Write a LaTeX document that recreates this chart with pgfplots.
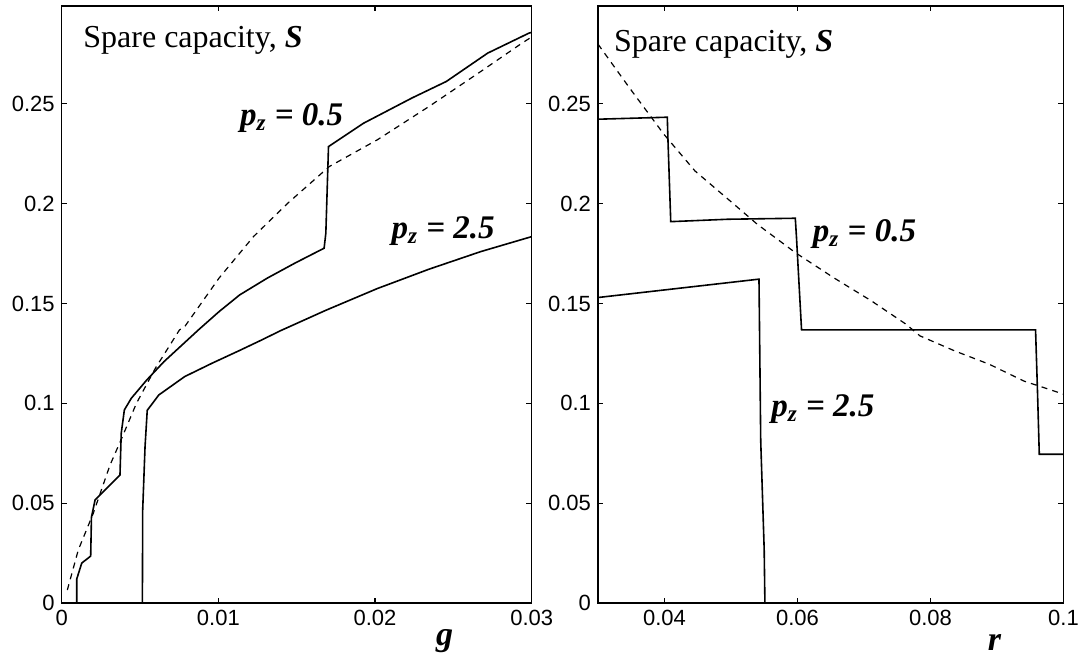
\documentclass[border=0pt]{standalone}
\usepackage{fontspec}
\setmainfont{Liberation Serif}
\setsansfont{Liberation Sans}
\usepackage{pgfplots}
\pgfplotsset{compat=1.18}

\pgfplotsset{
  panel/.style={
    scale only axis, anchor=south west, clip mode=individual,
    height=298.5pt, ymin=0, ymax=0.299,
    ytick={0,0.05,0.1,0.15,0.2,0.25},
    yticklabels={0,0.05,0.1,0.15,0.2,0.25},
    scaled ticks=false,
    tick align=inside, major tick length=2.6pt,
    xtick pos=both, ytick pos=both,
    ticklabel style={font=\sffamily\fontsize{11}{11}\selectfont},
    axis line style={line width=0.8pt},
    every tick/.style={line width=0.6pt, black},
  },
  curve/.style={black, line width=0.8pt},
  bound/.style={black, line width=0.6pt, dash pattern=on 3pt off 2.6pt},
}
\newcommand{\lab}[1]{{\fontsize{16.5}{16.5}\selectfont\bfseries\itshape #1}}
\newcommand{\spare}{{\fontsize{16}{16}\selectfont Spare capacity, \textbf{\textit{S}}}}

\begin{document}
\begin{tikzpicture}
\useasboundingbox (0,0) rectangle (541pt,327.5pt);

% left panel: S against g
\begin{axis}[panel, at={(30.85pt,26pt)}, width=235pt,
  xmin=0, xmax=0.03, xtick={0,0.01,0.02,0.03},
  xticklabels={0,0.01,0.02,0.03}]
  \addplot[curve] coordinates {(0.00096,0) (0.00096,0.012) (0.00128,0.0200) (0.00185,0.0235) (0.0019,0.043) (0.00213,0.0516) (0.00372,0.0641) (0.0038,0.085) (0.004,0.0967) (0.00444,0.1025) (0.00543,0.1117) (0.00653,0.1209) (0.00873,0.1368) (0.01004,0.1459) (0.01136,0.1543) (0.01312,0.1627) (0.01488,0.1702) (0.01675,0.1777) (0.01686,0.1852) (0.01703,0.2286) (0.01927,0.2403) (0.02235,0.2529) (0.02455,0.2612) (0.02719,0.2754) (0.02982,0.2854) (0.03,0.2858)};
  \addplot[curve] coordinates {(0.00515,0) (0.00517,0.0466) (0.00532,0.0783) (0.00546,0.0965) (0.0062,0.1042) (0.00785,0.1134) (0.0096,0.1201) (0.01136,0.1265) (0.0127,0.1315) (0.014,0.1365) (0.01686,0.1466) (0.02015,0.1575) (0.02345,0.1672) (0.02675,0.176) (0.03,0.1835)};
  \addplot[bound] coordinates {(0.00036,0.0065) (0.00106,0.0266) (0.00202,0.045) (0.00308,0.069) (0.00383,0.0825) (0.00477,0.1) (0.00598,0.1176) (0.00752,0.1368) (0.00785,0.1384) (0.01004,0.1627) (0.01224,0.1835) (0.01444,0.2003) (0.01708,0.2186) (0.02015,0.232) (0.02345,0.2487) (0.02675,0.2662) (0.02938,0.2804) (0.03,0.2835)};
  \node[anchor=west, inner sep=0pt] at (axis cs:0.00136,0.282) {\spare};
  \node[anchor=west, inner sep=0pt] at (axis cs:0.01136,0.2428) {\lab{p\textsubscript{z} = 0.5}};
  \node[anchor=west, inner sep=0pt] at (axis cs:0.02103,0.1864) {\lab{p\textsubscript{z} = 2.5}};
  \node[inner sep=0pt] at (axis description cs:0.815,-0.063) {\fontsize{17}{17}\selectfont\bfseries\itshape g};
\end{axis}

% right panel: S against r
\begin{axis}[panel, at={(299pt,26pt)}, width=232.75pt,
  xmin=0.03, xmax=0.1, xtick={0.04,0.06,0.08,0.1},
  xticklabels={0.04,0.06,0.08,0.1}]
  \addplot[curve] coordinates {(0.03,0.2423) (0.04042,0.2433) (0.04052,0.232) (0.04094,0.191) (0.04952,0.1922) (0.05967,0.1927) (0.05985,0.183) (0.06061,0.1368) (0.0958,0.1368) (0.0961,0.105) (0.09636,0.0745) (0.1,0.0745)};
  \addplot[curve] coordinates {(0.03,0.153) (0.05421,0.1622) (0.05447,0.0812) (0.05499,0.0269) (0.0551,0)};
  \addplot[bound] coordinates {(0.03,0.2799) (0.03469,0.2582) (0.0399,0.2348) (0.04458,0.2164) (0.04926,0.2031) (0.05395,0.1897) (0.05967,0.1755) (0.0654,0.163) (0.07112,0.1513) (0.07633,0.1396) (0.07841,0.1338) (0.08361,0.1263) (0.08882,0.1196) (0.09402,0.1112) (0.1,0.1046)};
  \node[anchor=west, inner sep=0pt] at (axis cs:0.03235,0.28) {\spare};
  \node[anchor=west, inner sep=0pt] at (axis cs:0.06227,0.185) {\lab{p\textsubscript{z} = 0.5}};
  \node[anchor=west, inner sep=0pt] at (axis cs:0.056,0.097) {\lab{p\textsubscript{z} = 2.5}};
  \node[inner sep=0pt] at (axis description cs:0.852,-0.066) {\fontsize{17}{17}\selectfont\bfseries\itshape r};
\end{axis}
\end{tikzpicture}
\end{document}
